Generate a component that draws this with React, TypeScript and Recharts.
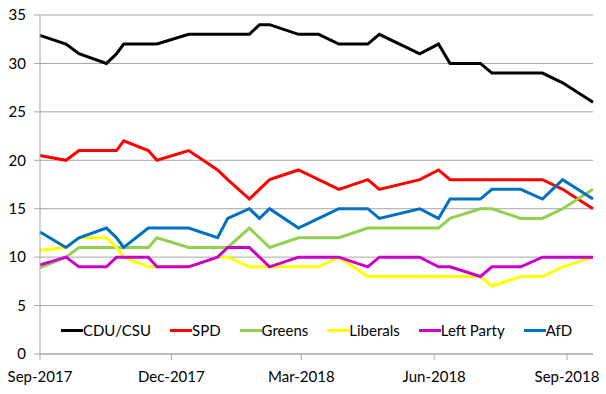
import { LineChart, Line, XAxis, YAxis, CartesianGrid, Legend } from "recharts";

// poll dates (election day first)
const dates = [
  "2017-09-24", "2017-10-12", "2017-10-21", "2017-11-09", "2017-11-16", "2017-11-21",
  "2017-12-08", "2017-12-14", "2018-01-05", "2018-01-25", "2018-02-01", "2018-02-16",
  "2018-02-23", "2018-03-02", "2018-03-22", "2018-04-05", "2018-04-19", "2018-05-09",
  "2018-05-17", "2018-06-14", "2018-06-27", "2018-07-05", "2018-07-26", "2018-08-03",
  "2018-08-23", "2018-09-07", "2018-09-21", "2018-10-12",
];

const cdu = [32.9, 32, 31, 30, 31, 32, 32, 32, 33, 33, 33, 33, 34, 34, 33, 33, 32, 32, 33, 31, 32, 30, 30, 29, 29, 29, 28, 26];
const spd = [20.5, 20, 21, 21, 21, 22, 21, 20, 21, 19, 18, 16, 17, 18, 19, 18, 17, 18, 17, 18, 19, 18, 18, 18, 18, 18, 17, 15];
const greens = [8.9, 10, 11, 11, 11, 11, 11, 12, 11, 11, 11, 13, 12, 11, 12, 12, 12, 13, 13, 13, 13, 14, 15, 15, 14, 14, 15, 17];
const liberals = [10.7, 11, 12, 12, 11, 10, 9, 9, 9, 10, 10, 9, 9, 9, 9, 9, 10, 8, 8, 8, 8, 8, 8, 7, 8, 8, 9, 10];
const left = [9.2, 10, 9, 9, 10, 10, 10, 9, 9, 10, 11, 11, 10, 9, 10, 10, 10, 9, 10, 10, 9, 9, 8, 9, 9, 10, 10, 10];
const afd = [12.6, 11, 12, 13, 12, 11, 13, 13, 13, 12, 14, 15, 14, 15, 13, 14, 15, 15, 14, 15, 14, 16, 16, 17, 17, 16, 18, 16];

const tickDates = ["2017-09-24", "2017-12-24", "2018-03-24", "2018-06-24", "2018-09-24"];
const tickLabels = ["Sep-2017", "Dec-2017", "Mar-2018", "Jun-2018", "Sep-2018"];
const yTicks = [0, 5, 10, 15, 20, 25, 30, 35];

const series = [
  { key: "cdu", name: "CDU/CSU", color: "#000000" },
  { key: "spd", name: "SPD", color: "#ff0000" },
  { key: "greens", name: "Greens", color: "#92d050" },
  { key: "liberals", name: "Liberals", color: "#ffff00" },
  { key: "left", name: "Left Party", color: "#cc00cc" },
  { key: "afd", name: "AfD", color: "#0070c0" },
];

const data = dates.map((d, i) => ({
  t: Date.parse(d),
  cdu: cdu[i],
  spd: spd[i],
  greens: greens[i],
  liberals: liberals[i],
  left: left[i],
  afd: afd[i],
}));

const xTicks = tickDates.map((d) => Date.parse(d));
const FONT = "Lato, 'Open Sans', sans-serif";

const renderLegend = () => (
  <div
    style={{
      display: "flex",
      justifyContent: "center",
      alignItems: "center",
      gap: 19,
      fontFamily: FONT,
      fontSize: 15,
      color: "#000",
      whiteSpace: "nowrap",
    }}
  >
    {series.map((s) => (
      <div key={s.key} style={{ display: "flex", alignItems: "center" }}>
        <span style={{ display: "inline-block", width: 22, height: 3, background: s.color }} />
        <span>{s.name}</span>
      </div>
    ))}
  </div>
);

export default function App() {
  return (
    <div style={{ position: "absolute", left: 0, top: 0, fontFamily: FONT }}>
      <LineChart width={606} height={394} data={data} margin={{ top: 15, right: 13, bottom: 0, left: 0 }}>
        <CartesianGrid vertical={false} stroke="#a6a6a6" />
        <XAxis
          dataKey="t"
          type="number"
          domain={[data[0].t, data[data.length - 1].t]}
          ticks={xTicks}
          tickFormatter={(v) => tickLabels[xTicks.indexOf(v)]}
          height={40}
          stroke="#a6a6a6"
          tickSize={6}
          tickMargin={11}
          tick={{ fill: "#000", fontSize: 15 }}
          interval={0}
        />
        <YAxis
          domain={[0, 35]}
          ticks={yTicks}
          width={40}
          stroke="#a6a6a6"
          tickSize={6}
          tickMargin={8}
          tick={{ fill: "#000", fontSize: 15 }}
          interval={0}
        />
        <Legend
          verticalAlign="middle"
          layout="horizontal"
          content={renderLegend}
          wrapperStyle={{ left: 40, top: 321, width: 553 }}
        />
        {series.map((s) => (
          <Line
            key={s.key}
            type="linear"
            dataKey={s.key}
            name={s.name}
            stroke={s.color}
            strokeWidth={3}
            dot={false}
            isAnimationActive={false}
          />
        ))}
      </LineChart>
    </div>
  );
}
